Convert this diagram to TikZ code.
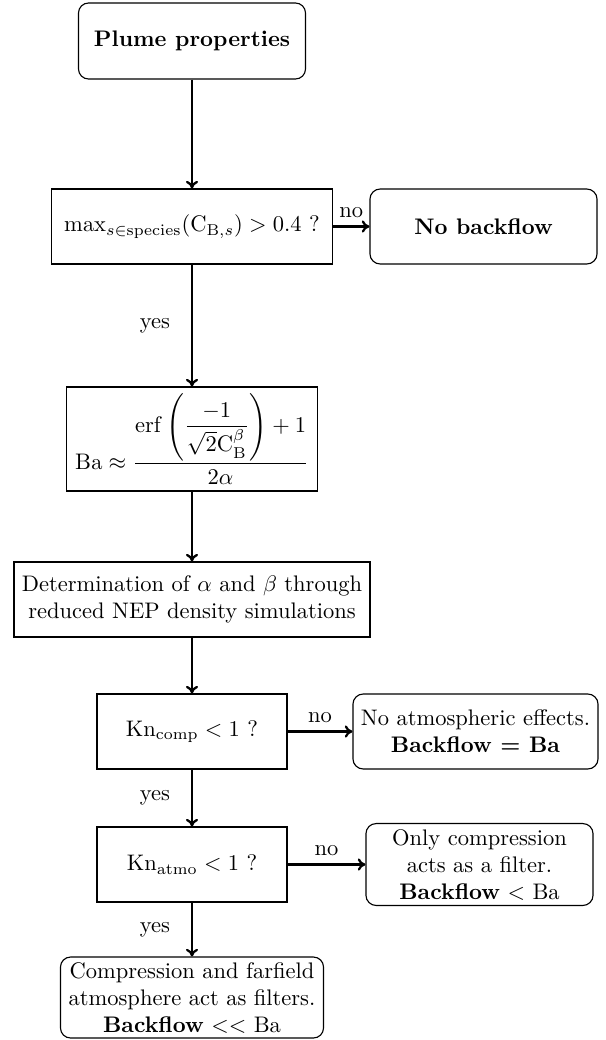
\documentclass[tikz,border=0pt]{standalone}
\usepackage{amsmath,amssymb}
\usetikzlibrary{arrows.meta}
\begin{document}
\begin{tikzpicture}[x=0.4444pt,y=-0.4444pt,
  proc/.style={draw, line width=0.5pt, align=center, inner sep=2pt},
  term/.style={proc, rounded corners=4.5pt},
  flow/.style={-{To[length=3.4pt,width=5.4pt]}, line width=1pt},
  lab/.style={font=\normalsize}]
\useasboundingbox (0,0) rectangle (606,1040);

% main column
\node[term, minimum width=100.9pt, minimum height=33.8pt] (plume) at (192,41) {\textbf{Plume properties}};
\node[proc, minimum width=124.9pt, minimum height=33.3pt] (maxc) at (192,226.5)
  {$\max_{s\in\mathrm{species}}(\mathrm{C}_{\mathrm{B},s}) > 0.4$ ?};
\node[term, minimum width=100.9pt, minimum height=33.3pt] (nob) at (483.5,226.5) {\textbf{No backflow}};
\node[proc, minimum width=111.6pt, minimum height=46.2pt] (ba) at (192,439)
  {$\mathrm{Ba}\approx\dfrac{\mathrm{erf}\left(\dfrac{-1}{\sqrt{2}\mathrm{C}_{\mathrm{B}}^{\beta}}\right)+1}{2\alpha}$};
\node[proc, minimum width=158.2pt, minimum height=33.3pt] (det) at (192,599.5)
  {Determination of $\alpha$ and $\beta$ through\\reduced NEP density simulations};
\node[proc, minimum width=84.4pt, minimum height=33.3pt] (kc) at (192,731.5)
  {$\mathrm{Kn}_{\mathrm{comp}} < 1$ ?};
\node[term, minimum width=108.9pt, minimum height=33.3pt] (noatm) at (475.5,731.5)
  {No atmospheric effects.\\\textbf{Backflow = Ba}};
\node[proc, minimum width=84.4pt, minimum height=33.3pt] (ka) at (192,864.5)
  {$\mathrm{Kn}_{\mathrm{atmo}} < 1$ ?};
\node[term, minimum width=100.9pt, minimum height=36.4pt] (onlyc) at (479.5,864.5)
  {Only compression\\acts as a filter.\\\textbf{Backflow} $<$ Ba};
\node[term, minimum width=116.9pt, minimum height=36pt] (both) at (192,997.5)
  {Compression and farfield\\atmosphere act as filters.\\\textbf{Backflow} $<<$ Ba};

% connectors
\draw[flow] (plume) -- (maxc);
\draw[flow] (maxc) -- node[lab, above] {no} (nob);
\draw[flow] (maxc) -- node[lab, left, xshift=-6pt] {yes} (ba);
\draw[flow] (ba) -- (det);
\draw[flow] (det) -- (kc);
\draw[flow] (kc) -- node[lab, above] {no} (noatm);
\draw[flow] (kc) -- node[lab, left, xshift=-6pt] {yes} (ka);
\draw[flow] (ka) -- node[lab, above] {no} (onlyc);
\draw[flow] (ka) -- node[lab, left, xshift=-6pt] {yes} (both);
\end{tikzpicture}
\end{document}
